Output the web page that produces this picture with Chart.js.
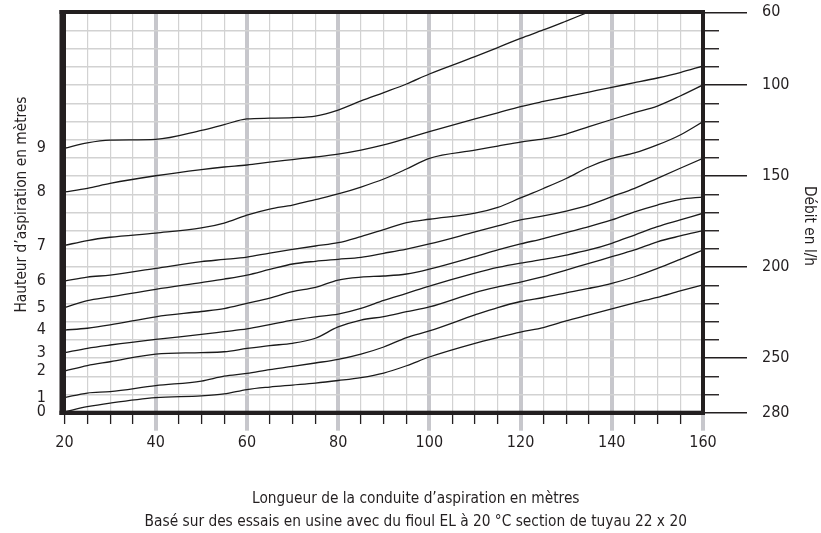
<!DOCTYPE html>
<html>
<head>
<meta charset="utf-8">
<script src="https://cdn.jsdelivr.net/npm/chart.js@4.4.1/dist/chart.umd.min.js"></script>
<style>
  html, body { margin: 0; padding: 0; background: #ffffff; }
  #wrap { width: 821px; height: 533px; }
</style>
</head>
<body>
<div id="wrap"><canvas id="c" width="821" height="533"></canvas></div>
<script>
// Pipe length (m) at which the curves were read
const lengths = [20, 25, 30, 40, 50, 55, 60, 65, 70, 75, 80, 85, 90, 95, 100, 110, 115, 120, 125, 130, 135, 140, 145, 150, 155, 160];

// Flow (l/h) for each suction height curve
const h0 = [279.5, 276.7, 274.7, 271.7, 270.8, 269.7, 267.3, 265.9, 264.8, 263.7, 262.3, 260.7, 258.2, 254.2, 249.4, 241.9, 238.7, 235.7, 233.2, 229.6, 226.3, 223.0, 219.7, 216.6, 213.1, 209.8];
const h1 = [271.7, 269.2, 268.4, 265.1, 262.6, 259.9, 258.4, 256.3, 254.6, 252.7, 250.7, 247.8, 243.9, 238.7, 235.1, 226.3, 222.2, 218.9, 216.7, 214.2, 211.7, 208.9, 205.3, 200.7, 195.7, 190.6];
const h2 = [257.1, 254.1, 252.0, 247.8, 247.0, 246.5, 244.7, 243.1, 241.9, 239.1, 232.9, 229.1, 227.2, 224.5, 221.9, 214.0, 210.9, 208.2, 205.2, 201.6, 197.9, 194.3, 190.6, 186.1, 182.9, 180.0];
const h3 = [247.0, 244.6, 242.8, 239.7, 237.0, 235.5, 234.0, 231.6, 229.1, 227.3, 225.8, 222.7, 218.3, 214.4, 210.4, 203.3, 200.2, 197.8, 195.8, 193.4, 190.6, 186.9, 182.4, 177.8, 174.1, 170.4];
const h4 = [234.6, 233.6, 231.8, 227.3, 224.4, 222.8, 219.9, 217.0, 213.5, 211.1, 207.1, 205.5, 204.9, 203.8, 201.1, 194.2, 190.6, 187.3, 184.3, 181.0, 177.8, 174.1, 169.6, 165.9, 162.8, 161.5];
const h5 = [222.2, 218.4, 216.4, 212.2, 208.5, 206.6, 204.4, 201.3, 198.3, 196.8, 195.7, 194.6, 192.4, 190.1, 187.3, 180.7, 177.4, 174.1, 171.9, 169.2, 165.9, 161.3, 156.7, 151.2, 145.7, 140.2];
const h6 = [207.7, 205.5, 204.4, 200.7, 197.0, 195.8, 194.5, 192.3, 190.3, 188.4, 186.6, 183.2, 179.4, 175.6, 173.7, 170.4, 167.2, 162.0, 156.8, 151.3, 145.0, 140.3, 137.3, 132.9, 127.4, 120.1];
const h7 = [188.1, 185.4, 183.6, 181.3, 178.5, 175.8, 171.4, 168.1, 165.9, 162.9, 159.8, 156.0, 151.6, 146.1, 140.2, 135.7, 133.5, 131.3, 129.6, 126.9, 122.8, 118.9, 115.1, 111.5, 106.0, 99.9];
const h8 = [158.7, 156.7, 154.0, 149.8, 146.4, 145.0, 143.9, 142.3, 140.9, 139.5, 137.9, 135.7, 132.9, 129.3, 125.6, 118.6, 115.2, 111.8, 109.0, 106.4, 103.8, 101.2, 98.7, 96.1, 93.1, 89.5];
const h9 = [134.7, 131.7, 130.2, 129.8, 124.9, 121.7, 118.6, 118.2, 117.9, 117.0, 113.7, 108.7, 104.1, 99.4, 93.9, 84.4, 79.4, 74.3, 69.7, 64.8, 59.8, 54.9, null, null, null, null];

const curves = [h0, h1, h2, h3, h4, h5, h6, h7, h8, h9];

// Tick labels
const heightLabels = ['0', '1', '2', '3', '4', '5', '6', '7', '8', '9'];
const flowLabels = [60, 100, 150, 200, 250, 280];
const lengthLabels = [20, 40, 60, 80, 100, 120, 140, 160];

const xTitle = ['Longueur de la conduite d\u2019aspiration en m\u00e8tres',
                'Bas\u00e9 sur des essais en usine avec du fioul EL \u00e0 20 \u00b0C section de tuyau 22 x 20'];
const yLeftTitle = 'Hauteur d\u2019aspiration en m\u00e8tres';
const yRightTitle = 'D\u00e9bit en l/h';

const FONT = "'DejaVu Sans Condensed', 'DejaVu Sans', sans-serif";
const INK = '#231f20';
const GRID = '#d2d2d2';
const MAJOR = '#c7c7cc';

Chart.defaults.font.family = FONT;
Chart.defaults.color = INK;

const isMajorX = v => v % 20 === 0 && v > 20;
const noPad = s => { s.paddingTop = 0; s.paddingBottom = 0; s.paddingLeft = 0; s.paddingRight = 0; };

const framePlugin = {
  id: 'frame',
  afterDatasetsDraw(chart) {
    const { ctx, chartArea: { left, top, right, bottom } } = chart;
    ctx.save();
    ctx.fillStyle = INK;
    ctx.fillRect(left - 5, top - 2.3, right - left + 7, 4);
    ctx.fillRect(left - 5, bottom - 2, right - left + 7, 4.3);
    ctx.fillRect(left - 5, top - 2.3, 6.5, bottom - top + 4.6);
    ctx.fillRect(right - 2, top - 2.3, 4, bottom - top + 4.6);
    ctx.restore();
  }
};

// Axis titles (real text, drawn on the canvas like the scale titles)
const titlesPlugin = {
  id: 'axisTitles',
  afterDraw(chart) {
    const { ctx, chartArea: a } = chart;
    ctx.save();
    ctx.fillStyle = INK;
    ctx.font = '15.3px ' + FONT;
    ctx.textAlign = 'center';
    ctx.textBaseline = 'middle';
    const cx = a.left + (a.right - a.left) * 0.5 + 32;
    ctx.fillText(xTitle[0], cx, a.bottom + 86.5);
    ctx.fillText(xTitle[1], cx, a.bottom + 109.5);
    ctx.save();
    ctx.translate(a.left - 42.5, (a.top + a.bottom) / 2 - 8);
    ctx.rotate(-Math.PI / 2);
    ctx.fillText(yLeftTitle, 0, 0);
    ctx.restore();
    ctx.save();
    ctx.translate(a.right + 105.5, (a.top + a.bottom) / 2 + 13.5);
    ctx.rotate(Math.PI / 2);
    ctx.fillText(yRightTitle, 0, 0);
    ctx.restore();
    ctx.restore();
  }
};

const datasets = curves.map((c, i) => ({
  label: heightLabels[i],
  data: lengths.map((x, j) => ({ x: x, y: c[j] })).filter(p => p.y !== null),
  xAxisID: 'x',
  yAxisID: 'yR',
  borderColor: '#1b1b1b',
  borderWidth: 1.3,
  pointRadius: 0,
  fill: false,
  cubicInterpolationMode: 'monotone'
}));

new Chart(document.getElementById('c'), {
  type: 'line',
  data: { datasets },
  options: {
    responsive: false,
    animation: false,
    devicePixelRatio: 1,
    layout: { padding: { top: 12.3, right: 0, bottom: 0, left: 0 } },
    plugins: { legend: { display: false }, tooltip: { enabled: false } },
    scales: {
      x: {
        type: 'linear',
        position: 'bottom',
        min: 20,
        max: 160,
        afterBuildTicks: s => {
          const t = [];
          for (let v = 20; v <= 160; v += 5) t.push({ value: v });
          s.ticks = t;
        },
        afterFit: s => { s.height = 120.3; noPad(s); },
        border: { display: false },
        grid: {
          color: ctx => isMajorX(ctx.tick.value) ? MAJOR : GRID,
          lineWidth: ctx => isMajorX(ctx.tick.value) ? 4 : 1.2,
          tickLength: 18,
          tickColor: ctx => isMajorX(ctx.tick.value) ? MAJOR : INK,
          tickWidth: ctx => isMajorX(ctx.tick.value) ? 4 : 1.3,
          tickBorderDash: ctx => isMajorX(ctx.tick.value) ? [] : [11, 60]
        },
        ticks: {
          autoSkip: false,
          maxRotation: 0,
          padding: 3,
          font: { size: 16 },
          callback: v => lengthLabels.includes(v) ? String(v) : ''
        },
        title: { display: false }
      },
      yR: {
        type: 'linear',
        position: 'right',
        reverse: true,
        min: 60,
        max: 280,
        z: -1,
        afterBuildTicks: s => {
          const t = [];
          for (let v = 60; v <= 280; v += 10) t.push({ value: v });
          s.ticks = t;
        },
        afterFit: s => { s.width = 118; noPad(s); },
        border: { display: false },
        grid: {
          color: GRID,
          lineWidth: 1.5,
          tickLength: 44,
          tickColor: INK,
          tickWidth: 1.4,
          tickBorderDash: ctx => flowLabels.includes(ctx.tick.value) ? [] : [16, 60]
        },
        ticks: {
          autoSkip: false,
          padding: 15,
          font: { size: 16 },
          callback: v => flowLabels.includes(v) ? String(v) : ''
        },
        title: { display: false }
      },
      yL: {
        type: 'linear',
        position: 'left',
        reverse: true,
        min: 60,
        max: 280,
        afterBuildTicks: s => {
          s.ticks = curves.map(c => ({ value: c[0] }));
        },
        afterFit: s => { s.width = 64.5; noPad(s); },
        border: { display: false },
        grid: { display: false },
        ticks: {
          autoSkip: false,
          padding: 10.5,
          font: { size: 16 },
          callback: (v, i) => heightLabels[i]
        },
        title: { display: false }
      }
    }
  },
  plugins: [framePlugin, titlesPlugin]
});
</script>
</body>
</html>
